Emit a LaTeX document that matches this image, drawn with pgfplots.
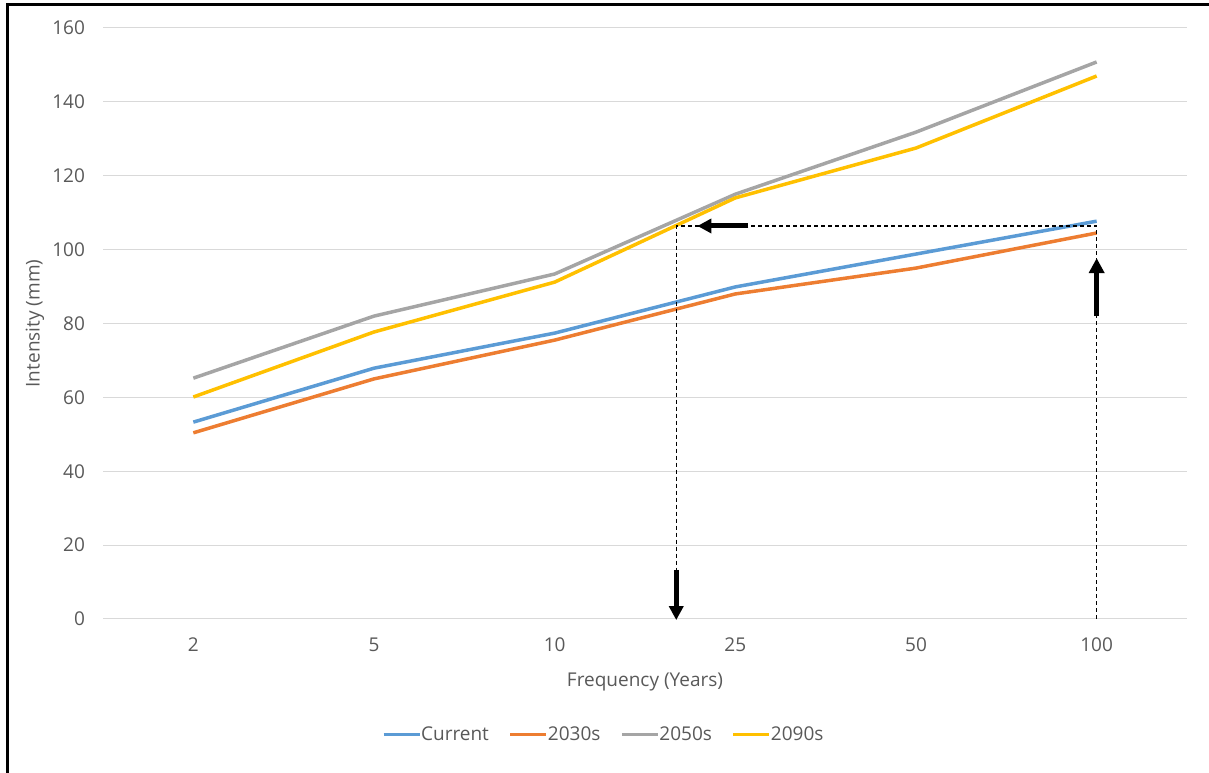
\documentclass[border=0pt]{standalone}
\usepackage{pgfplots}
\pgfplotsset{compat=1.18}
\usetikzlibrary{arrows.meta}
\usepackage{fontspec}
\setmainfont{Open Sans}
\definecolor{cblue}{RGB}{91,155,213}
\definecolor{corange}{RGB}{237,125,49}
\definecolor{cgray}{RGB}{165,165,165}
\definecolor{cgold}{RGB}{255,192,0}
\definecolor{gridgray}{RGB}{217,217,217}
\definecolor{textgray}{RGB}{89,89,89}
\begin{document}
\begin{tikzpicture}
\useasboundingbox (0pt,0pt) rectangle (1209pt,773pt);
\draw[line width=3pt] (7pt,0pt) -- (7pt,768pt) -- (1209pt,768pt);
\begin{axis}[
  at={(103pt,154pt)}, anchor=south west,
  scale only axis, width=1084pt, height=591pt,
  xmin=-0.5, xmax=5.5, ymin=0, ymax=160,
  xtick={0,1,2,3,4,5}, xticklabels={2,5,10,25,50,100},
  ytick={0,20,...,160},
  ymajorgrids, grid style={color=gridgray, line width=1pt},
  axis line style={draw=none},
  major tick length=0pt,
  tick label style={font=\fontsize{19}{21}\selectfont, color=textgray},
  yticklabel style={anchor=east, xshift=-14.5pt},
  xticklabel style={anchor=north, yshift=-15.5pt},
  /pgf/number format/assume math mode=true,
  xlabel={Frequency (Years)},
  ylabel={Intensity (mm)},
  label style={font=\fontsize{19}{21}\selectfont, color=textgray},
  xlabel style={at={(axis description cs:0.5,0)}, anchor=center, yshift=-63pt},
  ylabel style={at={(axis description cs:-0.0627,0.5)}, anchor=center},
  legend style={at={(axis description cs:0.462,-0.1946)}, anchor=center, draw=none,
    font=\fontsize{19}{21}\selectfont, text=textgray, legend columns=4,
    /tikz/every even column/.append style={column sep=18pt},
    /tikz/every odd column/.append style={column sep=-2pt}},
  legend image code/.code={\draw[#1, line width=3pt] (0pt,0pt) -- (36pt,0pt);},
  every axis plot/.append style={line width=3.5pt, no marks, line join=round},
  clip=false,
]
\addplot[cblue] coordinates {(0,53.3) (1,67.9) (2,77.4) (3,89.9) (4,98.8) (5,107.7)};
\addlegendentry{Current}
\addplot[corange] coordinates {(0,50.4) (1,65.0) (2,75.5) (3,88.0) (4,95.0) (5,104.5)};
\addlegendentry{2030s}
\addplot[cgray] coordinates {(0,65.2) (1,82.0) (2,93.4) (3,115.0) (4,131.8) (5,150.8)};
\addlegendentry{2050s}
\addplot[cgold] coordinates {(0,60.1) (1,77.7) (2,91.2) (3,114.0) (4,127.5) (5,147.0)};
\addlegendentry{2090s}
\draw[black, line width=1.2pt, dash pattern=on 4pt off 3pt] (axis cs:5,0) -- (axis cs:5,106.4) -- (axis cs:2.673,106.4) -- (axis cs:2.673,0);
\draw[black, line width=5pt, -{Triangle[width=15pt,length=15pt]}] (axis cs:5,82.0) -- (axis cs:5,97.7);
\draw[black, line width=5pt, -{Triangle[width=14pt,length=14pt]}] (axis cs:3.072,106.4) -- (axis cs:2.79,106.4);
\draw[black, line width=5pt, -{Triangle[width=14pt,length=14pt]}] (axis cs:2.673,13.3) -- (axis cs:2.673,-0.3);
\end{axis}
\end{tikzpicture}
\end{document}
